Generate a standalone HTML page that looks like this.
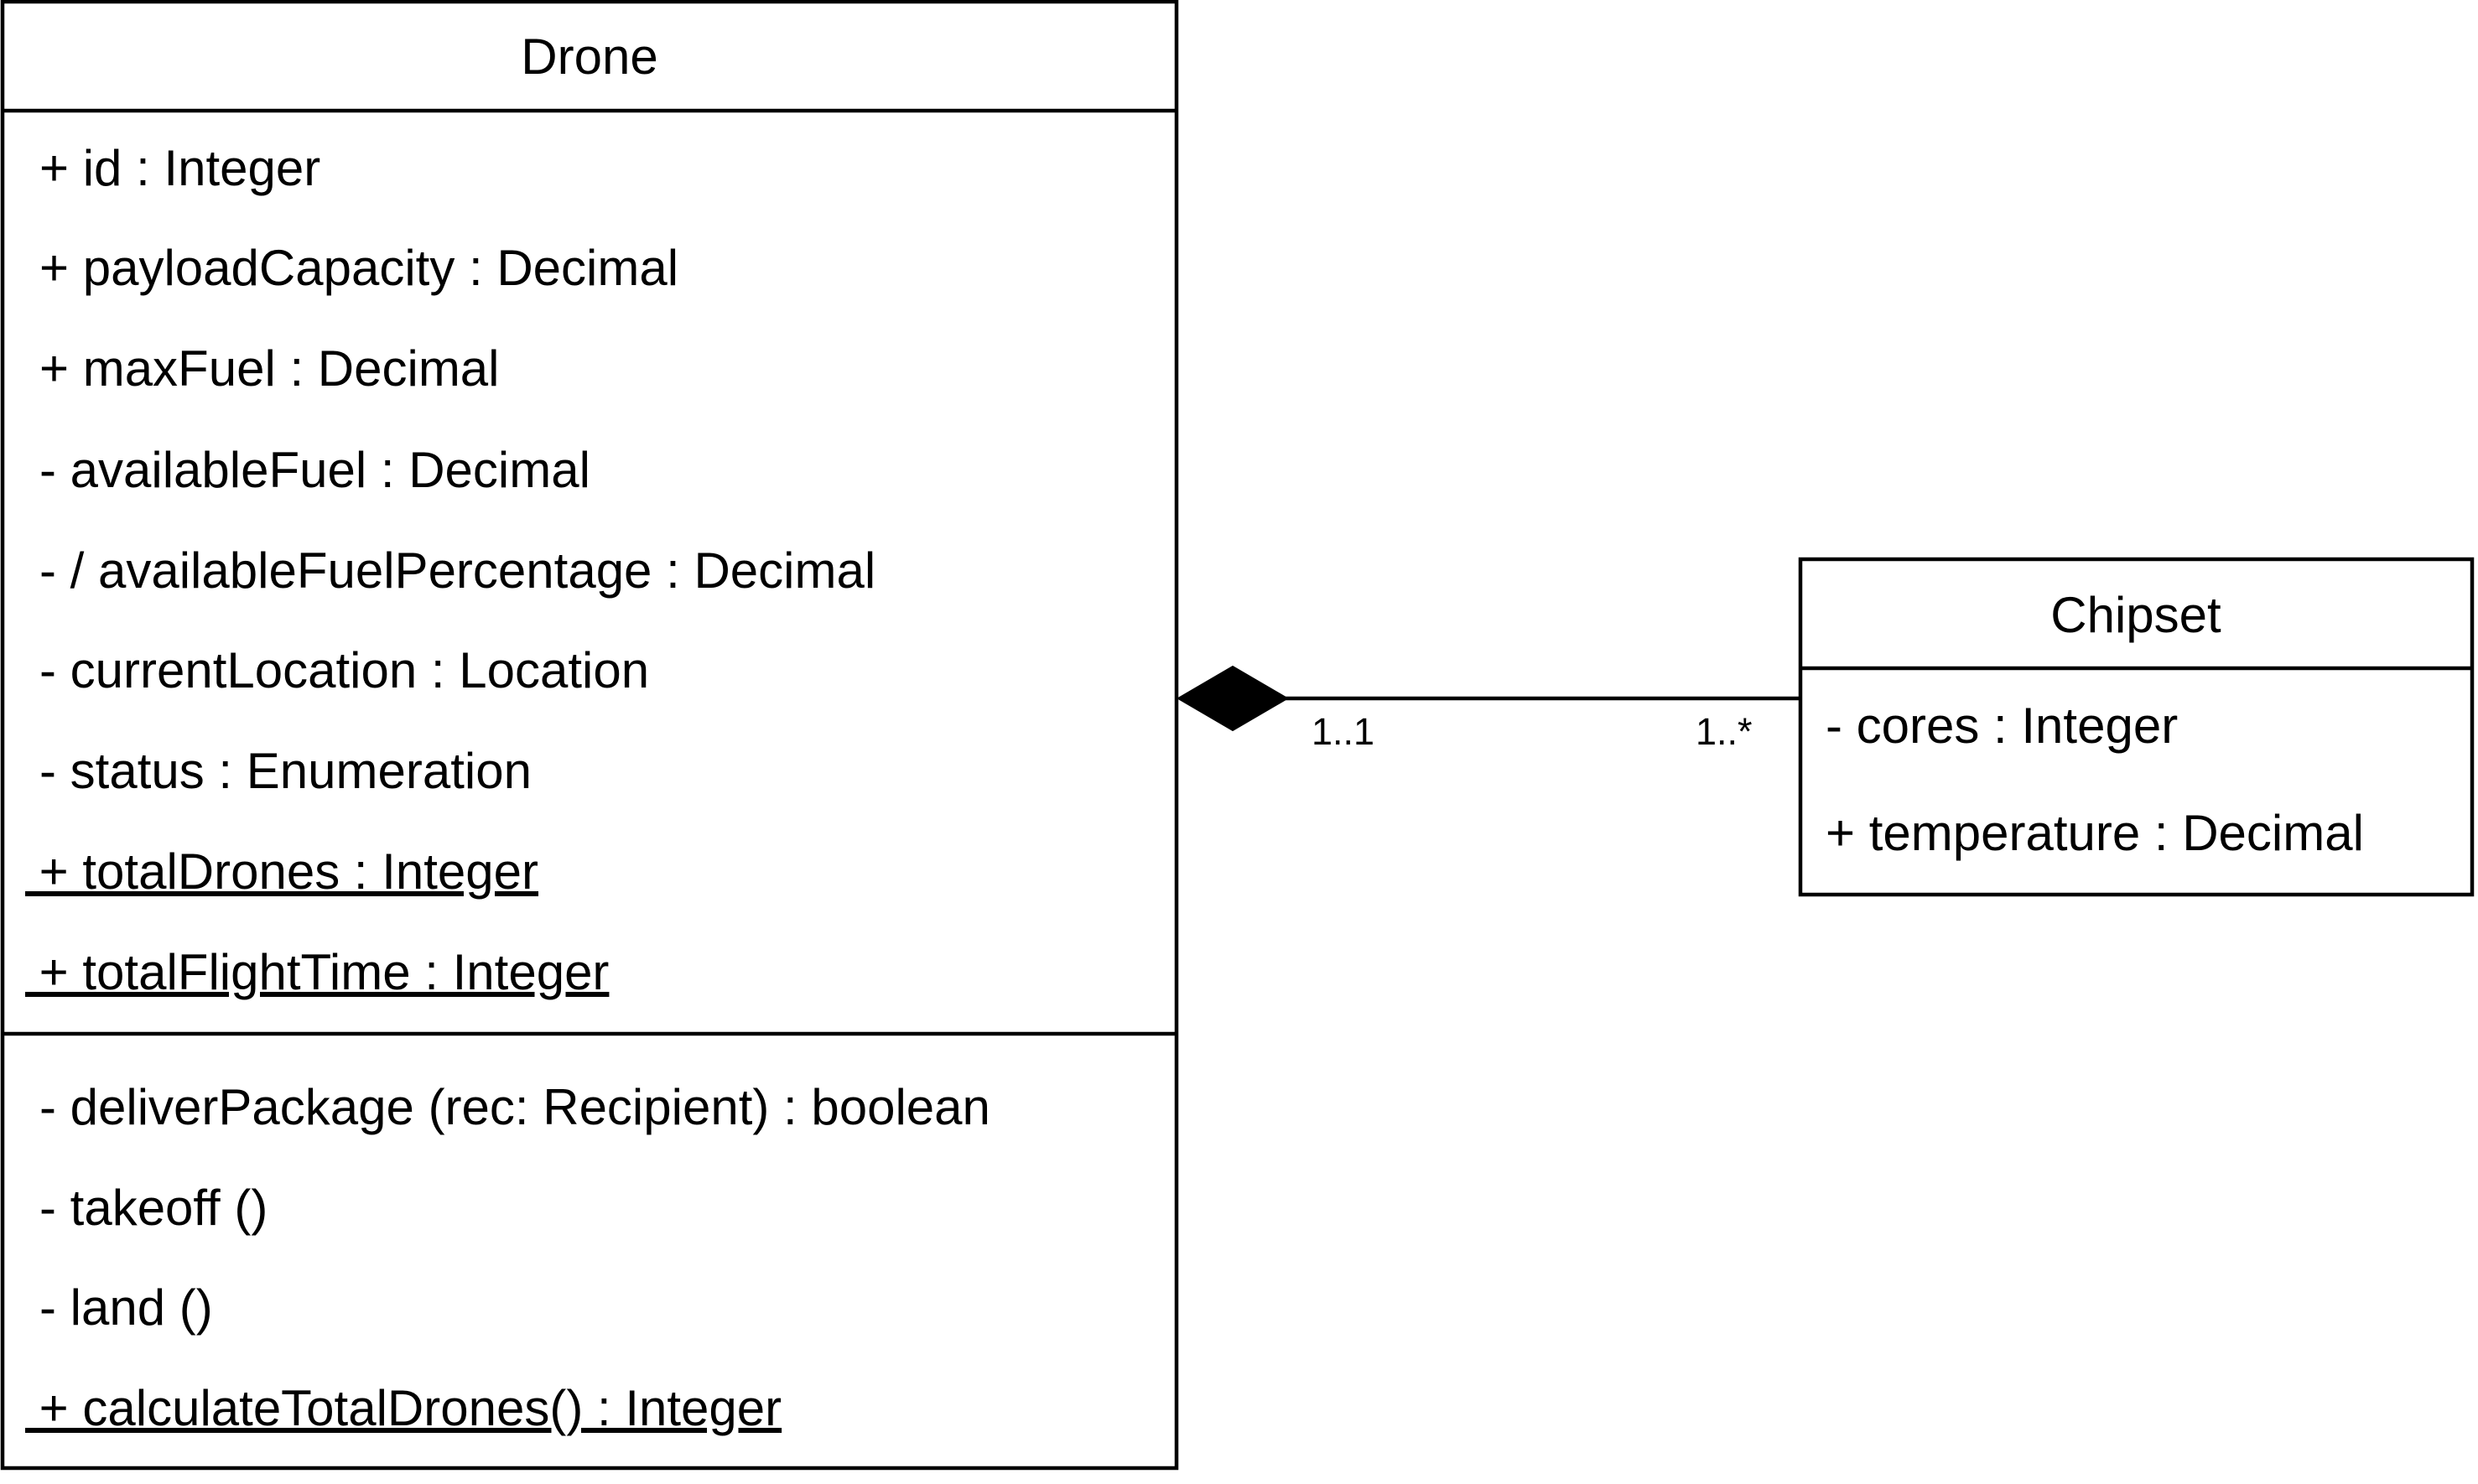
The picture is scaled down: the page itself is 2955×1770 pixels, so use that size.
<!DOCTYPE html>
<html><head><meta charset="utf-8"><style>
html,body{margin:0;padding:0;background:#fff;}
svg{display:block;}
text{font-family:"Liberation Sans",Arial,sans-serif;fill:#000;}
</style></head><body>
<svg width="2955" height="1770" viewBox="0 0 2955 1770" xmlns="http://www.w3.org/2000/svg">
<rect x="0" y="0" width="2955" height="1770" fill="#fff"/>
<!-- Drone -->
<rect x="3" y="2" width="1400" height="1749" fill="#fff" stroke="#000" stroke-width="4.5"/>
<line x1="3" y1="132" x2="1403" y2="132" stroke="#000" stroke-width="4.5"/>
<line x1="3" y1="1233" x2="1403" y2="1233" stroke="#000" stroke-width="4.5"/>
<text x="703" y="88" font-size="60" text-anchor="middle">Drone</text>
<g font-size="60">
<text x="47" y="221">+ id : Integer</text>
<text x="47" y="340">+ payloadCapacity : Decimal</text>
<text x="47" y="460">+ maxFuel : Decimal</text>
<text x="47" y="581">- availableFuel : Decimal</text>
<text x="47" y="701">- / availableFuelPercentage : Decimal</text>
<text x="47" y="820">- currentLocation : Location</text>
<text x="47" y="940">- status : Enumeration</text>
<text x="30" y="1060" text-decoration="underline" xml:space="preserve"> + totalDrones : Integer</text>
<text x="30" y="1180" text-decoration="underline" xml:space="preserve"> + totalFlightTime : Integer</text>
<text x="47" y="1341">- deliverPackage (rec: Recipient) : boolean</text>
<text x="47" y="1461">- takeoff ()</text>
<text x="47" y="1580">- land ()</text>
<text x="30" y="1700" text-decoration="underline" xml:space="preserve"> + calculateTotalDrones() : Integer</text>
</g>
<!-- Chipset -->
<rect x="2147" y="667" width="801" height="400" fill="#fff" stroke="#000" stroke-width="4.5"/>
<line x1="2147" y1="797" x2="2948" y2="797" stroke="#000" stroke-width="4.5"/>
<text x="2547" y="754" font-size="60" text-anchor="middle">Chipset</text>
<text x="2177" y="886" font-size="60">- cores : Integer</text>
<text x="2177" y="1014" font-size="60">+ temperature : Decimal</text>
<!-- connector -->
<line x1="1530" y1="833" x2="2147" y2="833" stroke="#000" stroke-width="4.5"/>
<polygon points="1405,833 1470,795 1535,833 1470,871" fill="#000" stroke="#000" stroke-width="2"/>
<text x="1564" y="888" font-size="45">1..1</text>
<text x="2022" y="888" font-size="45">1..*</text>
</svg>
</body></html>
